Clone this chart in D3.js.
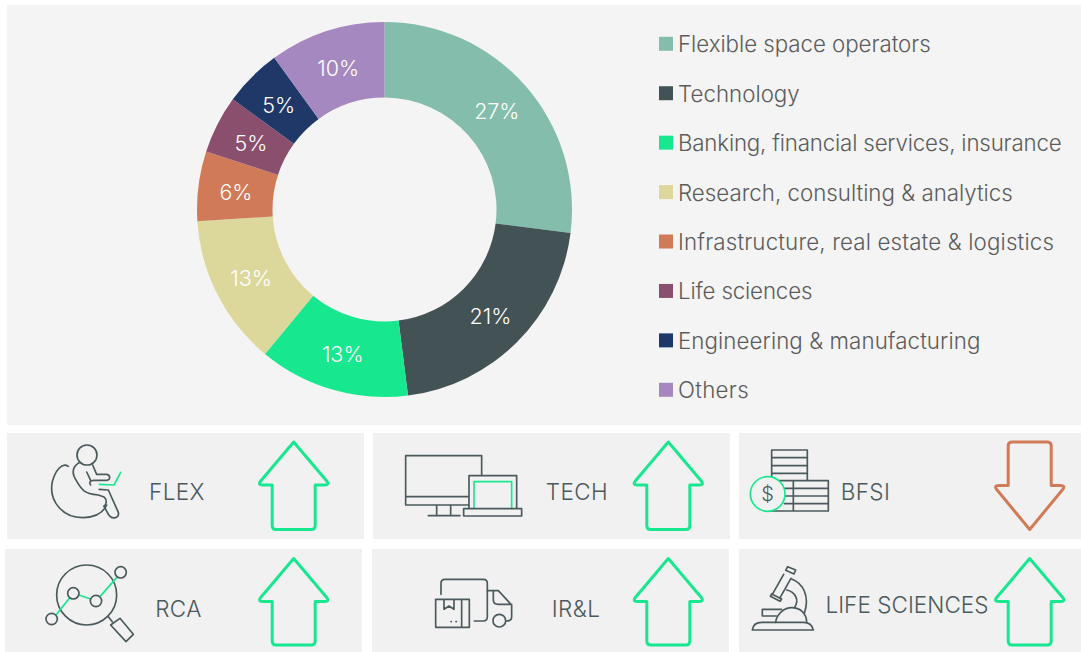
<!DOCTYPE html>
<html><head><meta charset="utf-8">
<script src="https://cdn.jsdelivr.net/npm/d3@7"></script>
<style>html,body{margin:0;padding:0;background:#fff}svg{display:block}text{font-family:Inter,"Open Sans",sans-serif;font-weight:300}</style>
</head><body><svg id="c" width="1081" height="652"></svg>
<script>
const categories=["Flexible space operators","Technology","Banking, financial services, insurance","Research, consulting & analytics","Infrastructure, real estate & logistics","Life sciences","Engineering & manufacturing","Others"];
const shares=[27,21,13,13,6,5,5,10];
const colors=["#84bdac","#435254","#17e88f","#dcd89c","#d17a58","#8a4f6d","#1f3868","#a688c0"];
const tileLabels=["FLEX","TECH","BFSI","RCA","IR&L","LIFE SCIENCES"];
const tileTrends=["up","up","down","up","up","up"];

const svg=d3.select("#c");
const INK="#4a5a5c",GREEN="#17e88f",RED="#d17a58";
svg.append("rect").attr("x",7).attr("y",5).attr("width",1074).attr("height",420).attr("fill","#f4f4f4");

const color=d3.scaleOrdinal(categories,colors);
const pie=d3.pie().value(d=>d.v).sort(null);
const arc=d3.arc().innerRadius(112).outerRadius(187.5);
const rows=categories.map((c,i)=>({c,v:shares[i]}));
const g=svg.append("g").attr("transform","translate(384.5,209.5)");
const arcs=g.selectAll("g").data(pie(rows)).join("g");
arcs.append("path").attr("d",arc).attr("fill",d=>color(d.data.c));
arcs.append("text").attr("transform",d=>`translate(${arc.centroid(d)})`).attr("text-anchor","middle").attr("y",9)
  .attr("fill","#fff").attr("font-size",21.5).text(d=>d.data.v+"%");

const ly=d3.scalePoint(categories,[43.8,389.8]);
const lg=svg.append("g").selectAll("g").data(categories).join("g").attr("transform",c=>`translate(659,${ly(c)})`);
lg.append("rect").attr("y",-7).attr("width",14).attr("height",14).attr("fill",c=>color(c));
const legendTrack=[-0.04,0.02,-0.18,0,0.16,-0.15,0.08,0.3];
lg.append("text").attr("x",19).attr("y",8.5).attr("font-size",22.3).attr("letter-spacing",(c,i)=>legendTrack[i]).attr("fill","#5c5c5c").text(c=>c);

const tiles=[[7,433,357,106],[373,433,357,106],[739,433,342,106],[5,549,357,103],[372,549,357,103],[739,549,342,103]];
const labelPos=[[177,500],[577,500],[865.5,500],[178.5,617],[576,617],[907,613]];
const arrowX=[293.7,668.3,1029.7,293.7,668.3,1029.7];
tiles.forEach((t,i)=>{
  svg.append("rect").attr("x",t[0]).attr("y",t[1]).attr("width",t[2]).attr("height",t[3]).attr("fill","#f1f1f1");
  svg.append("text").attr("x",labelPos[i][0]).attr("y",labelPos[i][1]).attr("text-anchor","middle").attr("font-size",22.5).attr("letter-spacing",i===5?0.05:0.4).attr("fill",INK).text(tileLabels[i]);
  const up=tileTrends[i]==="up";
  const top=i<3?442:558.5, bot=i<3?529.5:645;
  const cx=arrowX[i];
  const p=up
   ?`M${cx} ${top}L${cx+33} ${top+39}Q${cx+36} ${top+43} ${cx+31} ${top+43}H${cx+21.5}V${bot-4}Q${cx+21.5} ${bot} ${cx+17.5} ${bot}H${cx-17.5}Q${cx-21.5} ${bot} ${cx-21.5} ${bot-4}V${top+43}H${cx-31}Q${cx-36} ${top+43} ${cx-33} ${top+39}Z`
   :`M${cx} ${bot}L${cx+33} ${bot-40}Q${cx+36} ${bot-44} ${cx+31} ${bot-44}H${cx+21.5}V${top+4}Q${cx+21.5} ${top} ${cx+17.5} ${top}H${cx-17.5}Q${cx-21.5} ${top} ${cx-21.5} ${top+4}V${bot-44}H${cx-31}Q${cx-36} ${bot-44} ${cx-33} ${bot-40}Z`;
  svg.append("path").attr("d",p).attr("fill","none").attr("stroke",up?GREEN:RED).attr("stroke-width",3).attr("stroke-linejoin","round");
});

function icon(ox,oy,parts){
  const ig=svg.append("g").attr("transform",`translate(${ox},${oy}) scale(0.3333)`).attr("fill","none").attr("stroke-linecap","round").attr("stroke-linejoin","round").attr("stroke-width",5);
  parts.forEach(p=>{
    const [k,d,col,extra]=p;
    let el;
    if(k==="p") el=ig.append("path").attr("d",d);
    if(k==="c") el=ig.append("circle").attr("cx",d[0]).attr("cy",d[1]).attr("r",d[2]);
    el.attr("stroke",col||INK);
    if(extra) el.attr("fill",extra);
  });
  return ig;
}
// FLEX
icon(0,425,[
 ["c",[261,90,30]],
 ["p","M240 112C220 122 214 140 225 160C245 195 250 205 295 210L312 216C322 225 320 238 312 244"],
 ["p","M205 124C185 110 165 140 157 170C145 230 190 279 250 278C285 277 310 262 320 240"],
 ["p","M298 193L325 195L355 262C360 282 332 286 322 262L312 244"],
 ["p","M278 120L290 148L320 148C332 150 332 165 320 166L282 166C270 166 266 172 272 180"],
 ["p","M260 141L272 166"],
 ["p","M298 178L342 180L362 142",GREEN]
]);
// RCA
icon(0,425,[
 ["c",[260,510,90]],
 ["p","M168 570L208 520M237 510L272 522M300 515L350 458",GREEN],
 ["c",[155,582,17]],["c",[220,505,17]],["c",[288,528,17]],["c",[362,442,17]],
 ["p","M325 575L337 590M360 580L400 628L378 650L332 600Z"]
]);
// TECH
icon(370,425,[
 ["p","M295 240H107V92H335V150M107 215H295M200 240V272M242 240V272M175 272H270"],
 ["p","M297 250V152H440V250"],
 ["p","M312 250V170H425V250",GREEN],
 ["p","M281 251H455V273H281Z"]
]);
// IR&L
icon(370,425,[
 ["p","M213 508V475Q213 463 225 463H340Q352 463 352 475V576Q352 588 340 588H313"],
 ["p","M352 497H385L425 540V575Q425 588 410 588M370 497V525Q370 538 385 538H425"],
 ["c",[388,587,19]],
 ["p","M197 523H298V607H197ZM275 523V607M222 523V553L237 543L252 553V523M243 590h1M258 590h1"]
]);
// BFSI
const fi=icon(735,425,[
 ["p","M110 167V75H217V167M110 98H217M110 122H217M110 145H217M110 167H280V258H110M175 167V258M148 190H280M150 213H280M148 236H280"],
 ["c",[98,207,52],GREEN,"#f1f1f1"]
]);
fi.append("text").attr("x",98).attr("y",228).attr("text-anchor","middle").attr("font-size",60).attr("fill",INK).attr("stroke","none").text("$");
// Life sciences
icon(735,425,[
 ["p","M52 615Q55 592 80 592H205Q230 592 235 615Z"],
 ["p","M122 592C125 565 150 548 170 548C195 548 215 565 215 592"],
 ["p","M82 553H140M82 573H124M82 553V573"],
 ["p","M170 462C205 475 225 515 208 565"],
 ["p","M155 495C180 500 195 525 178 548"],
 ["p","M146 448L112 508M168 460L134 520"],
 ["p","M158 425L182 435L177 447L152 436ZM110 507L140 522L135 529L106 514Z"]
]);
</script></body></html>
